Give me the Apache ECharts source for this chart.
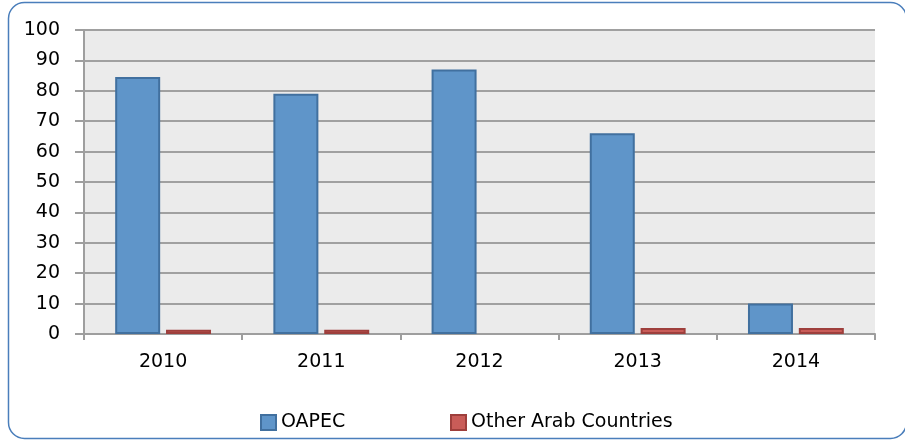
<!DOCTYPE html>
<html>
<head>
<meta charset="utf-8">
<script src="https://cdn.jsdelivr.net/npm/echarts@6/dist/echarts.min.js"></script>
<style>
  html, body { margin: 0; padding: 0; background: #fff; }
  #chart { width: 905px; height: 446px; }
</style>
</head>
<body>
<div id="chart"></div>
<script>
  var years = ['2010', '2011', '2012', '2013', '2014'];
  var oapec = [84.5, 79, 87, 66, 10];
  // no bar shown for 2012
  var otherArab = [1.4, 1.4, '-', 2, 2];

  var font = 'DejaVu Sans';

  var chart = echarts.init(document.getElementById('chart'));
  chart.setOption({
    animation: false,
    textStyle: { fontFamily: font },
    graphic: [{
      type: 'rect',
      shape: { x: 8.5, y: 2.5, width: 898, height: 436, r: 16 },
      style: { fill: 'none', stroke: '#4a7ebb', lineWidth: 1.5 },
      z: 100
    }],
    grid: {
      left: 84,
      right: 30,
      top: 30,
      bottom: 112,
      show: true,
      backgroundColor: '#ebebeb',
      borderWidth: 0
    },
    legend: [{
      left: 255,
      top: 408,
      icon: 'rect',
      itemWidth: 15,
      itemHeight: 15,
      itemGap: 0,
      textStyle: { fontFamily: font, fontSize: 19, color: '#000' },
      data: ['OAPEC']
    }, {
      left: 445,
      top: 408,
      icon: 'rect',
      itemWidth: 15,
      itemHeight: 15,
      itemGap: 0,
      textStyle: { fontFamily: font, fontSize: 19, color: '#000' },
      data: ['Other Arab Countries']
    }],
    xAxis: {
      type: 'category',
      data: years,
      axisLine: { lineStyle: { color: '#9e9e9e', width: 2 } },
      axisTick: { show: true, length: 6, lineStyle: { color: '#9e9e9e', width: 2 } },
      axisLabel: { color: '#000', fontSize: 19, margin: 19, fontFamily: font }
    },
    yAxis: {
      type: 'value',
      min: 0,
      max: 100,
      interval: 10,
      axisLine: { show: true, lineStyle: { color: '#9e9e9e', width: 2 } },
      axisTick: { show: true, length: 9, lineStyle: { color: '#9e9e9e', width: 2 } },
      splitLine: { lineStyle: { color: '#a0a0a0', width: 2 } },
      axisLabel: { color: '#000', fontSize: 19, margin: 24, fontFamily: font }
    },
    series: [
      {
        name: 'OAPEC',
        type: 'bar',
        barWidth: 45,
        barGap: '13%',
        itemStyle: { color: '#5f95c9', borderColor: '#41709f', borderWidth: 2 },
        data: oapec
      },
      {
        name: 'Other Arab Countries',
        type: 'bar',
        barWidth: 45,
        itemStyle: { color: '#c95c58', borderColor: '#9e3f3c', borderWidth: 2 },
        data: otherArab
      }
    ]
  });
</script>
</body>
</html>
